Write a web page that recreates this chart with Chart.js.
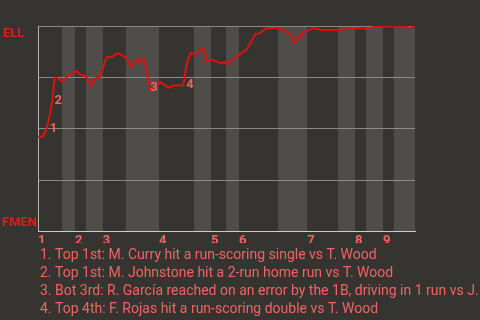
<!DOCTYPE html>
<html>
<head>
<meta charset="utf-8">
<script src="https://cdn.jsdelivr.net/npm/chart.js@4.4.1/dist/chart.umd.min.js"></script>
<style>
  html, body { margin: 0; background: #363431; }
  canvas { display: block; }
</style>
</head>
<body>
<canvas id="wpChart" width="480" height="320"></canvas>
<script>
// x = plate appearance index, y = win probability for ELL
const wpX = [0, 1.3, 2.3, 3.2, 3.8, 4.4, 5.3, 6.6, 8.0, 10.3, 11.1, 12.7, 14.0, 15.1, 16.4, 18.2, 19.8, 20.9, 21.9, 23.5,
  24.7, 26.0, 26.8, 27.9, 28.8, 29.7, 31.0, 32.4, 34.6, 35.9, 38.5, 39.4, 40.5, 41.6, 43.4, 43.8, 44.7, 46.1, 48.3, 49.6,
  50.2, 51.4, 53.6, 55.4, 56.7, 57.6, 58.4, 60.2, 61.5, 64.2, 66.0, 66.8, 67.9, 69.0, 70.4, 71.7, 73.0, 74.4, 75.0, 80.1,
  81.4, 84.1, 87.2, 89.4, 90.3, 91.6, 97.8, 98.7, 99.4, 100];
const wpY = [0.461, 0.461, 0.50, 0.574, 0.637, 0.75, 0.745, 0.73, 0.76, 0.78, 0.765, 0.755, 0.71, 0.745, 0.75, 0.848, 0.85, 0.866, 0.863, 0.843,
  0.80, 0.837, 0.82, 0.848, 0.784, 0.69, 0.706, 0.727, 0.70, 0.71, 0.71, 0.81, 0.869, 0.861, 0.886, 0.89, 0.828, 0.837, 0.82, 0.824,
  0.812, 0.833, 0.863, 0.887, 0.928, 0.96, 0.961, 0.984, 0.99, 0.99, 0.969, 0.96, 0.918, 0.94, 0.969, 0.98, 0.989, 0.985, 0.98, 0.98,
  0.987, 0.99, 0.985, 0.997, 0.994, 0.997, 0.997, 0.99, 0.997, 1.0];

// where each inning (top half) starts, and the bottom halves
const inningStarts = [0, 9.8, 17.2, 32.1, 45.9, 53.3, 71.4, 84.1, 91.5];
const inningLabels = ['1', '2', '3', '4', '5', '6', '7', '8', '9'];
const bottomHalves = [[6.4, 9.8], [12.7, 17.2], [23.3, 32.1], [41.4, 45.9], [49.9, 53.3], [63.7, 71.4], [79.6, 84.1], [87.0, 91.5], [94.4, 100]];

// key plays
const eventNums = ['1', '2', '3', '4'];
const eventX = [2.3, 3.6, 29.0, 38.5];
const eventY = [0.50, 0.637, 0.70, 0.715];
const notes = [
  '1. Top 1st: M. Curry hit a run-scoring single vs T. Wood',
  '2. Top 1st: M. Johnstone hit a 2-run home run vs T. Wood',
  '3. Bot 3rd: R. García reached on an error by the 1B, driving in 1 run vs J.',
  '4. Top 4th: F. Rojas hit a run-scoring double vs T. Wood'
];
const topTeam = 'ELL';
const bottomTeam = 'FMEN';

const FONT = '"Roboto", "Noto Sans", sans-serif';
const SALMON = '#f26464';
const RED = '#e0100f';

const bandsPlugin = {
  id: 'bands',
  beforeDraw(chart) {
    const { ctx, chartArea: a, scales: { x } } = chart;
    ctx.save();
    ctx.fillStyle = '#363431';
    ctx.fillRect(0, 0, chart.width, chart.height);
    ctx.fillStyle = '#4f4d4a';
    bottomHalves.forEach(([s, e]) => {
      const x0 = x.getPixelForValue(s);
      const x1 = x.getPixelForValue(e);
      ctx.fillRect(x0, a.top, x1 - x0, a.bottom - a.top);
    });
    ctx.restore();
  }
};

const textPlugin = {
  id: 'texts',
  afterDraw(chart) {
    const { ctx, scales: { x, y } } = chart;
    ctx.save();
    ctx.fillStyle = '#dd1c1c';
    ctx.font = 'bold 13px ' + FONT;
    ctx.textAlign = 'left';
    ctx.textBaseline = 'top';
    ctx.fillText(topTeam, 3, y.getPixelForValue(1) + 1);
    ctx.textBaseline = 'bottom';
    ctx.fillText(bottomTeam, 2, y.getPixelForValue(0) - 2);

    ctx.fillStyle = SALMON;
    ctx.textBaseline = 'middle';
    eventNums.forEach((n, i) => {
      ctx.fillText(n, x.getPixelForValue(eventX[i]) + 3, y.getPixelForValue(eventY[i]));
    });

    ctx.font = '14px ' + FONT;
    ctx.textBaseline = 'alphabetic';
    notes.forEach((t, i) => ctx.fillText(t, 40, 259 + i * 18));
    ctx.restore();
  }
};

new Chart(document.getElementById('wpChart'), {
  type: 'line',
  data: {
    datasets: [{
      data: wpX.map((v, i) => ({ x: v, y: wpY[i] })),
      borderColor: RED,
      borderWidth: 2,
      pointRadius: 0,
      tension: 0
    }]
  },
  options: {
    responsive: false,
    animation: false,
    layout: { padding: { left: 38, right: 65, top: 26, bottom: 77 } },
    plugins: { legend: { display: false }, tooltip: { enabled: false } },
    scales: {
      x: {
        type: 'linear',
        min: 0,
        max: 100,
        grid: { display: false },
        border: { color: '#cfcdca' },
        afterBuildTicks: s => { s.ticks = inningStarts.map(v => ({ value: v })); },
        ticks: {
          color: SALMON,
          font: { family: FONT, size: 13, weight: 'bold' },
          padding: -6,
          align: 'start',
          autoSkip: false,
          maxRotation: 0,
          callback: (v, i) => inningLabels[i]
        }
      },
      y: {
        min: 0,
        max: 1,
        ticks: { display: false, stepSize: 0.25 },
        grid: { color: c => c.tick.value === 0 ? '#cfcdca' : '#8c8a87', drawTicks: false },
        border: { color: '#b5b3b0' }
      }
    }
  },
  plugins: [bandsPlugin, textPlugin]
});
</script>
</body>
</html>
